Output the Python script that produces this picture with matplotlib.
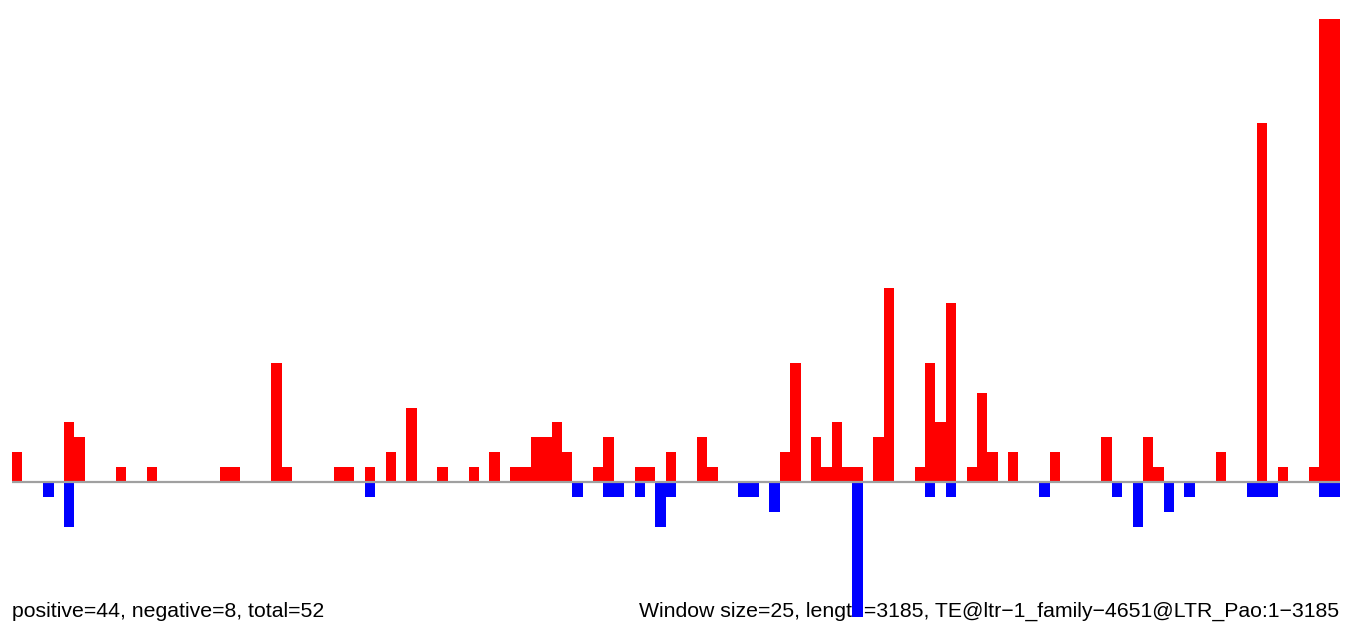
import numpy as np
import matplotlib
matplotlib.use("Agg")
import matplotlib.pyplot as plt

n_windows = 128
pos_idx = [0, 5, 6, 10, 13, 20, 21, 25, 26, 31, 32, 34, 36, 38, 41, 44, 46, 48, 49, 50,
           51, 52, 53, 56, 57, 60, 61, 63, 66, 67, 74, 75, 77, 78, 79, 80, 81, 83, 84, 87,
           88, 89, 90, 92, 93, 94, 96, 100, 105, 109, 110, 116, 120, 122, 125, 126, 127]
pos_val = [2, 4, 3, 1, 1, 1, 1, 8, 1, 1, 1, 1, 2, 5, 1, 1, 2, 1, 1, 3,
           3, 4, 2, 1, 3, 1, 1, 2, 3, 1, 2, 8, 3, 1, 4, 1, 1, 3, 13, 1,
           8, 4, 12, 1, 6, 2, 2, 2, 3, 3, 1, 2, 24, 1, 1, 31, 31]
neg_idx = [3, 5, 34, 54, 57, 58, 60, 62, 63, 70, 71, 73, 81, 88, 90, 99, 106, 108, 111,
           113, 119, 120, 121, 126, 127]
neg_val = [-1, -3, -1, -1, -1, -1, -1, -3, -1, -1, -1, -2, -9, -1, -1, -1, -1, -3, -2,
           -1, -1, -1, -1, -1, -1]

left_label = "positive=44, negative=8, total=52"
right_label = "Window size=25, length=3185, TE@ltr\u22121_family\u22124651@LTR_Pao:1\u22123185"

positive = np.zeros(n_windows)
negative = np.zeros(n_windows)
positive[pos_idx] = pos_val
negative[neg_idx] = neg_val
x = np.arange(n_windows)

fig = plt.figure(figsize=(13.52, 6.28), dpi=100)
ax = fig.add_axes([12 / 1352, 11 / 628, 1328 / 1352, (617 - 18.5) / 628])
ax.bar(x, positive, width=1.0, align="edge", color="#ff0000", linewidth=0, zorder=2)
ax.bar(x, negative, width=1.0, align="edge", color="#0000ff", linewidth=0, zorder=2)
ax.axhline(0, color="#a0a0a0", linewidth=1.6, zorder=3)
ax.set_xlim(0, n_windows)
ax.set_ylim(-9, 31)
ax.axis("off")

font = ["Liberation Sans", "DejaVu Sans"]
ax.text(12 / 1352, 11 / 628, left_label, ha="left", va="baseline",
        fontsize=15.3, family=font, color="black",
        transform=fig.transFigure, zorder=1, clip_on=False)
ax.text(1339 / 1352, 11 / 628, right_label, ha="right", va="baseline",
        fontsize=15.3, family=font, color="black",
        transform=fig.transFigure, zorder=1, clip_on=False)

fig.savefig("out.png", dpi=100)
